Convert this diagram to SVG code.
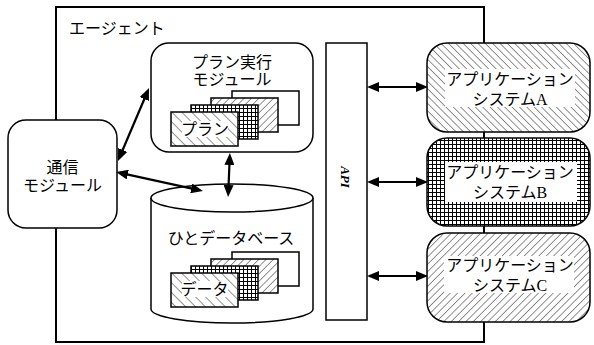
<svg xmlns="http://www.w3.org/2000/svg" xmlns:xlink="http://www.w3.org/1999/xlink" width="594" height="345" viewBox="0 0 594 345">
  <style>
    .jp { font-family: "Noto Sans CJK JP", "Noto Sans", sans-serif; font-size: 16px; fill: #000; }
    .latin { font-family: "Liberation Serif", serif; }
    .box { fill: #fff; stroke: #000; stroke-width: 1.5; }
    .card { stroke: #000; stroke-width: 1.5; }
    .frame { fill: none; stroke: #000; stroke-width: 2; }
    .link { fill: none; stroke: #000; stroke-width: 2.2; marker-start: url(#head); marker-end: url(#head); }
    .api { font-family: "Liberation Serif", serif; font-weight: bold; font-style: italic; font-size: 13px; }
    .hatch { stroke: #000; stroke-width: 0.85; }
    .fillA { fill: url(#hatchBack); }
    .fillB { fill: url(#grid); }
    .fillC { fill: url(#hatchFwd); }
  </style>
  <defs>
    <!-- hatch fills -->
    <pattern id="hatchBackWide" patternUnits="userSpaceOnUse" width="7" height="7" patternTransform="rotate(-45)">
      <rect width="7" height="7" fill="#fff"/>
      <line class="hatch" x1="0" y1="0" x2="0" y2="7"/>
    </pattern>
    <pattern id="hatchBack" patternUnits="userSpaceOnUse" width="5.2" height="5.2" patternTransform="rotate(-45)">
      <rect width="5.2" height="5.2" fill="#fff"/>
      <line class="hatch" x1="0" y1="0" x2="0" y2="5.2"/>
    </pattern>
    <pattern id="hatchFwd" patternUnits="userSpaceOnUse" width="5.2" height="5.2" patternTransform="rotate(45)">
      <rect width="5.2" height="5.2" fill="#fff"/>
      <line class="hatch" x1="0" y1="0" x2="0" y2="5.2"/>
    </pattern>
    <pattern id="grid" patternUnits="userSpaceOnUse" width="4" height="4">
      <rect width="4" height="4" fill="#fff"/>
      <path d="M0,0.5 H4 M0.5,0 V4" stroke="#000" stroke-width="1"/>
    </pattern>
    <marker id="head" markerUnits="userSpaceOnUse" markerWidth="13" markerHeight="10" refX="2" refY="5" orient="auto-start-reverse">
      <path d="M0,0 L12,5 L0,10 z" fill="#000"/>
    </marker>
    <!-- stack of four cards, front card top-left at origin -->
    <g id="cardStack">
      <rect class="card" x="61" y="-21" width="67" height="34" fill="#fff"/>
      <rect class="card" x="40" y="-14" width="67" height="34" fill="url(#hatchFwd)"/>
      <rect class="card" x="20" y="-7" width="67" height="34" fill="url(#grid)"/>
      <rect class="card" x="0" y="0" width="67" height="34" fill="url(#hatchBackWide)"/>
    </g>
  </defs>

  <rect width="594" height="345" fill="#fff"/>

  <g id="agent">
    <rect class="frame" x="56" y="7" width="428" height="335"/>
    <text class="jp" x="69" y="34">エージェント</text>
  </g>

  <g id="comm">
    <rect class="box" x="8" y="120" width="109" height="108" rx="18" ry="18"/>
    <text class="jp" x="62.5" y="173" text-anchor="middle">通信</text>
    <text class="jp" x="62.5" y="191" text-anchor="middle">モジュール</text>
  </g>

  <g id="plan">
    <rect class="box" x="151" y="43" width="162" height="109" rx="18" ry="18"/>
    <text class="jp" x="232" y="67.5" text-anchor="middle">プラン実行</text>
    <text class="jp" x="232" y="84.5" text-anchor="middle">モジュール</text>
    <use xlink:href="#cardStack" x="171" y="112"/>
    <rect x="182" y="121" width="46" height="16" fill="#fff"/>
    <text class="jp" x="205" y="134.5" text-anchor="middle">プラン</text>
  </g>

  <g id="db">
    <path class="box" d="M151,198 V309 A81,14 0 0 0 313,309 V198"/>
    <ellipse class="box" cx="232" cy="198" rx="81" ry="14"/>
    <text class="jp" x="231" y="243.5" text-anchor="middle">ひとデータベース</text>
    <use xlink:href="#cardStack" x="171" y="273"/>
    <rect x="182" y="281" width="46" height="16" fill="#fff"/>
    <text class="jp" x="204.5" y="295" text-anchor="middle">データ</text>
  </g>

  <g id="api">
    <rect class="box" x="326" y="43" width="41" height="277"/>
    <text class="api" transform="translate(341,177) rotate(90)" text-anchor="middle">API</text>
  </g>

  <g id="appA">
    <rect class="box fillA" x="427" y="43" width="163" height="89" rx="20" ry="20"/>
    <rect x="445" y="69" width="130" height="38" fill="#fff"/>
    <text class="jp" x="510" y="84.5" text-anchor="middle">アプリケーション</text>
    <text class="jp" x="510" y="104.5" text-anchor="middle">システム<tspan class="latin">A</tspan></text>
  </g>

  <g id="appB">
    <rect class="box fillB" x="427" y="138" width="163" height="88" rx="20" ry="20"/>
    <rect x="445" y="162" width="132" height="40" fill="#fff"/>
    <text class="jp" x="510" y="177.5" text-anchor="middle">アプリケーション</text>
    <text class="jp" x="510" y="197.5" text-anchor="middle">システム<tspan class="latin">B</tspan></text>
  </g>

  <g id="appC">
    <rect class="box fillC" x="427" y="233" width="163" height="89" rx="20" ry="20"/>
    <rect x="444" y="256" width="130" height="37" fill="#fff"/>
    <text class="jp" x="510" y="271" text-anchor="middle">アプリケーション</text>
    <text class="jp" x="510" y="291" text-anchor="middle">システム<tspan class="latin">C</tspan></text>
  </g>

  <g id="connectors">
    <line class="link" x1="121.9" y1="151.8" x2="145.1" y2="97.2"/>
    <line class="link" x1="125.8" y1="174.1" x2="193.2" y2="188.9"/>
    <line class="link" x1="229.5" y1="163" x2="228.5" y2="187"/>
    <line class="link" x1="377" y1="87" x2="418" y2="87"/>
    <line class="link" x1="377" y1="182" x2="418" y2="182"/>
    <line class="link" x1="377" y1="276" x2="418" y2="276"/>
  </g>
</svg>
